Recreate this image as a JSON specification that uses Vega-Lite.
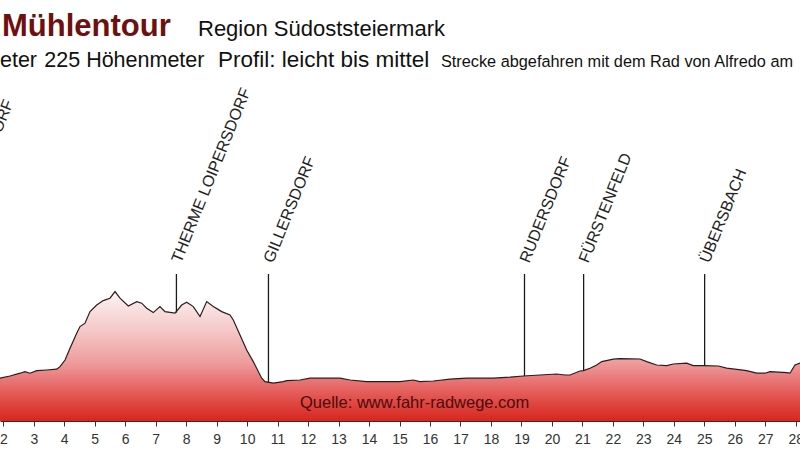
{
  "$schema": "https://vega.github.io/schema/vega-lite/v6.json",
  "width": 800,
  "height": 421,
  "autosize": {"type": "none"},
  "padding": {"left": 0, "top": 0, "right": 0, "bottom": 29},
  "background": "white",
  "config": {"view": {"stroke": null}, "font": "Liberation Sans"},
  "datasets": {
    "profil": [
      {"km": 1.6, "hoehe": 270.8}, {"km": 1.892, "hoehe": 271.4}, {"km": 2.22, "hoehe": 272.5},
      {"km": 2.548, "hoehe": 273.9}, {"km": 2.712, "hoehe": 274.7}, {"km": 2.876, "hoehe": 273.9},
      {"km": 3.096, "hoehe": 275.2}, {"km": 3.424, "hoehe": 275.5}, {"km": 3.752, "hoehe": 275.9},
      {"km": 3.86, "hoehe": 277.2}, {"km": 4.025, "hoehe": 280.5}, {"km": 4.189, "hoehe": 286.4},
      {"km": 4.408, "hoehe": 293.9}, {"km": 4.517, "hoehe": 297.2}, {"km": 4.681, "hoehe": 298.9},
      {"km": 4.845, "hoehe": 304.7}, {"km": 5.065, "hoehe": 308.0}, {"km": 5.281, "hoehe": 310.2},
      {"km": 5.501, "hoehe": 311.4}, {"km": 5.665, "hoehe": 314.7}, {"km": 5.829, "hoehe": 311.4},
      {"km": 6.101, "hoehe": 307.5}, {"km": 6.377, "hoehe": 309.7}, {"km": 6.541, "hoehe": 308.9},
      {"km": 6.705, "hoehe": 306.4}, {"km": 6.921, "hoehe": 304.2}, {"km": 7.141, "hoehe": 307.2},
      {"km": 7.305, "hoehe": 304.7}, {"km": 7.633, "hoehe": 303.9}, {"km": 7.853, "hoehe": 308.0},
      {"km": 8.017, "hoehe": 309.4}, {"km": 8.234, "hoehe": 307.2}, {"km": 8.454, "hoehe": 302.2},
      {"km": 8.674, "hoehe": 309.7}, {"km": 8.89, "hoehe": 307.2}, {"km": 9.166, "hoehe": 304.7},
      {"km": 9.438, "hoehe": 303.0}, {"km": 9.546, "hoehe": 300.5}, {"km": 9.766, "hoehe": 293.0},
      {"km": 9.986, "hoehe": 285.5}, {"km": 10.202, "hoehe": 279.7}, {"km": 10.478, "hoehe": 271.4},
      {"km": 10.586, "hoehe": 269.7}, {"km": 10.859, "hoehe": 268.9}, {"km": 11.187, "hoehe": 269.7},
      {"km": 11.298, "hoehe": 270.2}, {"km": 11.734, "hoehe": 270.5}, {"km": 12.063, "hoehe": 271.4},
      {"km": 13.047, "hoehe": 271.4}, {"km": 13.375, "hoehe": 270.5}, {"km": 13.923, "hoehe": 269.7},
      {"km": 15.015, "hoehe": 269.7}, {"km": 15.452, "hoehe": 270.5}, {"km": 15.671, "hoehe": 269.7},
      {"km": 16.108, "hoehe": 270.0}, {"km": 16.656, "hoehe": 270.9}, {"km": 17.203, "hoehe": 271.4},
      {"km": 18.076, "hoehe": 271.4}, {"km": 18.624, "hoehe": 271.9}, {"km": 19.061, "hoehe": 272.5},
      {"km": 19.608, "hoehe": 273.0}, {"km": 20.156, "hoehe": 273.5}, {"km": 20.429, "hoehe": 273.0},
      {"km": 20.593, "hoehe": 273.0}, {"km": 20.921, "hoehe": 275.0}, {"km": 21.029, "hoehe": 275.2},
      {"km": 21.249, "hoehe": 276.4}, {"km": 21.469, "hoehe": 278.0}, {"km": 21.633, "hoehe": 279.7},
      {"km": 22.014, "hoehe": 280.9}, {"km": 22.233, "hoehe": 281.2}, {"km": 22.89, "hoehe": 281.0},
      {"km": 23.109, "hoehe": 279.7}, {"km": 23.437, "hoehe": 278.0}, {"km": 23.765, "hoehe": 277.7},
      {"km": 23.982, "hoehe": 278.5}, {"km": 24.421, "hoehe": 278.9}, {"km": 24.638, "hoehe": 277.7},
      {"km": 24.966, "hoehe": 277.7}, {"km": 25.458, "hoehe": 277.5}, {"km": 25.734, "hoehe": 276.4},
      {"km": 26.39, "hoehe": 275.2}, {"km": 26.718, "hoehe": 273.9}, {"km": 26.99, "hoehe": 273.9},
      {"km": 27.154, "hoehe": 274.7}, {"km": 27.702, "hoehe": 274.2}, {"km": 27.81, "hoehe": 273.9},
      {"km": 27.974, "hoehe": 278.0}, {"km": 28.139, "hoehe": 278.9}, {"km": 28.47, "hoehe": 279.5}
    ],
    "orte": [
      {"ort": "GROSSWILFERSDORF", "km": 0.05, "hoehe": 271.0},
      {"ort": "THERME LOIPERSDORF", "km": 7.68, "hoehe": 304.2},
      {"ort": "GILLERSDORF", "km": 10.7, "hoehe": 269.2},
      {"ort": "RUDERSDORF", "km": 19.1, "hoehe": 272.5},
      {"ort": "FÜRSTENFELD", "km": 21.04, "hoehe": 275.2},
      {"ort": "ÜBERSBACH", "km": 25.01, "hoehe": 277.7}
    ]
  },
  "layer": [
    {
      "data": {"name": "profil"},
      "mark": {
        "type": "area",
        "clip": true,
        "fill": {
          "gradient": "linear", "x1": 0, "y1": 0, "x2": 0, "y2": 1,
          "stops": [
            {"offset": 0, "color": "#fdf3f3"},
            {"offset": 0.3, "color": "#f5c8c8"},
            {"offset": 0.55, "color": "#ee9c9c"},
            {"offset": 0.7, "color": "#e77272"},
            {"offset": 0.85, "color": "#e04a44"},
            {"offset": 1, "color": "#d6261e"}
          ]
        }
      },
      "encoding": {
        "x": {
          "field": "km",
          "type": "quantitative",
          "scale": {"domain": [1.892, 28.139], "nice": false, "zero": false},
          "axis": {
            "values": [2, 3, 4, 5, 6, 7, 8, 9, 10, 11, 12, 13, 14, 15, 16, 17, 18, 19, 20, 21, 22, 23, 24, 25, 26, 27, 28],
            "tickCount": 27,
            "format": "d",
            "title": null,
            "grid": false,
            "domainColor": "#4a2222",
            "domainWidth": 1,
            "tickColor": "#333333",
            "tickSize": 5,
            "labelFont": "Liberation Sans",
            "labelFontSize": 14,
            "labelColor": "#333333",
            "labelPadding": 6,
            "labelFlush": false,
            "labelOverlap": false
          }
        },
        "y": {"field": "hoehe", "type": "quantitative", "scale": {"domain": [250, 460.5], "nice": false, "zero": false}, "axis": null},
        "y2": {"datum": 250}
      }
    },
    {
      "data": {"name": "profil"},
      "mark": {"type": "line", "clip": true, "color": "#2b1b1b", "strokeWidth": 1.2},
      "encoding": {
        "x": {
          "field": "km",
          "type": "quantitative",
          "axis": {
            "values": [2, 3, 4, 5, 6, 7, 8, 9, 10, 11, 12, 13, 14, 15, 16, 17, 18, 19, 20, 21, 22, 23, 24, 25, 26, 27, 28],
            "tickCount": 27,
            "format": "d",
            "title": null,
            "grid": false,
            "labelOverlap": false
          }
        },
        "y": {"field": "hoehe", "type": "quantitative"}
      }
    },
    {
      "data": {"name": "orte"},
      "mark": {"type": "rule", "clip": true, "color": "#1a1a1a", "strokeWidth": 1.3},
      "encoding": {
        "x": {"field": "km", "type": "quantitative"},
        "y": {"field": "hoehe", "type": "quantitative"},
        "y2": {"datum": 323.5}
      }
    },
    {
      "data": {"name": "orte"},
      "mark": {"type": "text", "angle": -68, "align": "left", "baseline": "middle", "fontSize": 16, "color": "#222222", "font": "Liberation Sans"},
      "encoding": {
        "x": {"field": "km", "type": "quantitative"},
        "y": {"datum": 329.5, "type": "quantitative"},
        "text": {"field": "ort"}
      }
    },
    {
      "data": {"values": [{"titel": "Mühlentour"}]},
      "mark": {"type": "text", "align": "left", "baseline": "alphabetic", "fontSize": 31, "fontWeight": "bold", "color": "#6e1010", "font": "Liberation Sans"},
      "encoding": {
        "x": {"datum": 1.958, "type": "quantitative"},
        "y": {"datum": 442.3, "type": "quantitative"},
        "text": {"field": "titel"}
      }
    },
    {
      "data": {"values": [{"titel": "Region Südoststeiermark"}]},
      "mark": {"type": "text", "align": "left", "baseline": "alphabetic", "fontSize": 22, "color": "#111111", "font": "Liberation Sans"},
      "encoding": {
        "x": {"datum": 8.388, "type": "quantitative"},
        "y": {"datum": 442.6, "type": "quantitative"},
        "text": {"field": "titel"}
      }
    },
    {
      "data": {"values": [{"titel": "Kilometer"}]},
      "mark": {"type": "text", "align": "right", "baseline": "alphabetic", "fontSize": 21.5, "color": "#111111", "font": "Liberation Sans"},
      "encoding": {
        "x": {"datum": 3.106, "type": "quantitative"},
        "y": {"datum": 427.2, "type": "quantitative"},
        "text": {"field": "titel"}
      }
    },
    {
      "data": {"values": [{"titel": "225 Höhenmeter"}]},
      "mark": {"type": "text", "align": "left", "baseline": "alphabetic", "fontSize": 21.5, "color": "#111111", "font": "Liberation Sans"},
      "encoding": {
        "x": {"datum": 3.345, "type": "quantitative"},
        "y": {"datum": 427.2, "type": "quantitative"},
        "text": {"field": "titel"}
      }
    },
    {
      "data": {"values": [{"titel": "Profil: leicht bis mittel"}]},
      "mark": {"type": "text", "align": "left", "baseline": "alphabetic", "fontSize": 22.5, "color": "#111111", "font": "Liberation Sans"},
      "encoding": {
        "x": {"datum": 9.044, "type": "quantitative"},
        "y": {"datum": 427.2, "type": "quantitative"},
        "text": {"field": "titel"}
      }
    },
    {
      "data": {"values": [{"titel": "Strecke abgefahren mit dem Rad von Alfredo am"}]},
      "mark": {"type": "text", "align": "left", "baseline": "alphabetic", "fontSize": 16.3, "color": "#111111", "font": "Liberation Sans"},
      "encoding": {
        "x": {"datum": 16.36, "type": "quantitative"},
        "y": {"datum": 427.2, "type": "quantitative"},
        "text": {"field": "titel"}
      }
    },
    {
      "data": {"values": [{"titel": "Quelle: www.fahr-radwege.com"}]},
      "mark": {"type": "text", "align": "left", "baseline": "alphabetic", "fontSize": 16.5, "color": "#4a0c0c", "font": "Liberation Sans"},
      "encoding": {
        "x": {"datum": 11.735, "type": "quantitative"},
        "y": {"datum": 256.5, "type": "quantitative"},
        "text": {"field": "titel"}
      }
    }
  ]
}
